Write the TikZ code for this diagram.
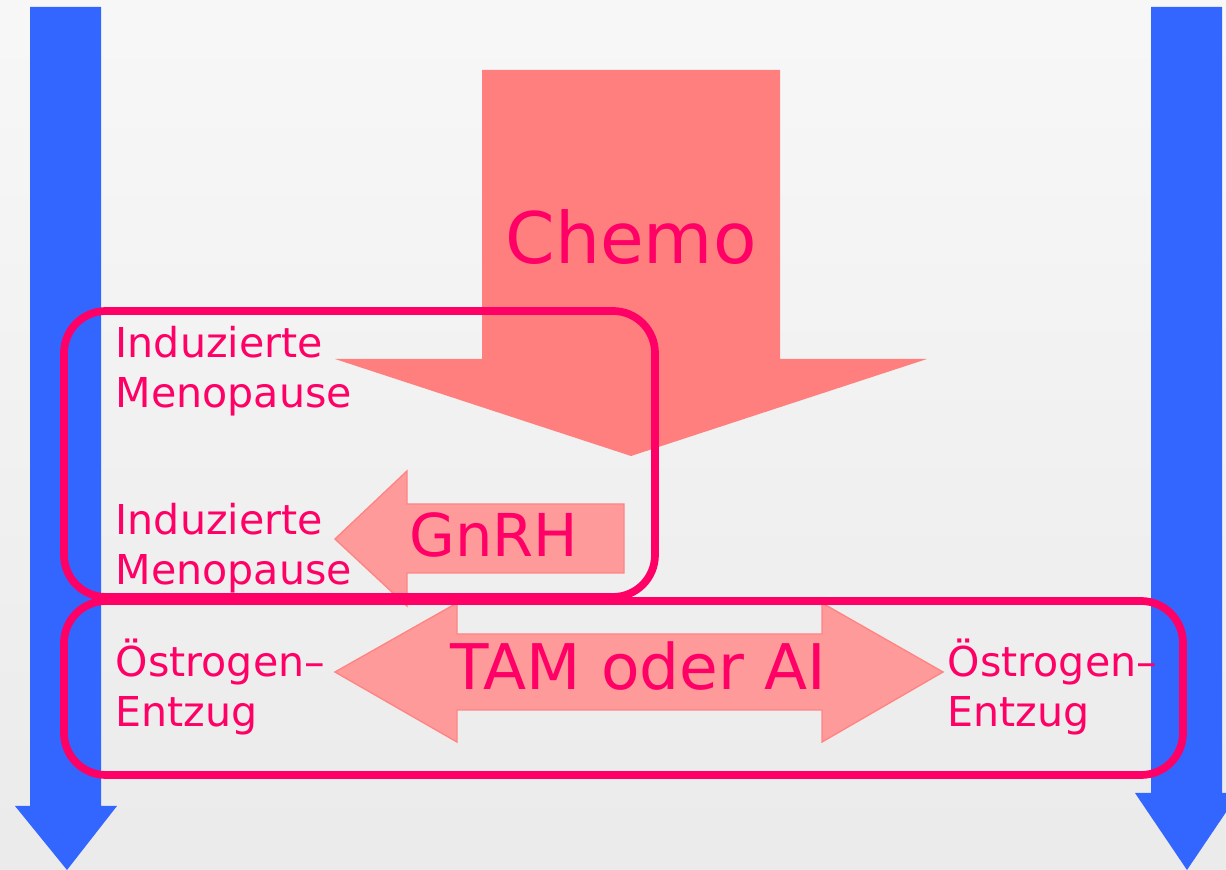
\documentclass[tikz,border=0pt]{standalone}
\usepackage{fontspec}
\setmainfont{DejaVu Sans}
\definecolor{barblue}{HTML}{3366FF}
\definecolor{chemofill}{HTML}{FF7F7F}
\definecolor{armfill}{HTML}{FF9A9A}
\definecolor{armedge}{HTML}{FF8585}
\definecolor{hotpink}{HTML}{FF0066}
\tikzset{
  txtline/.style={anchor=base west,inner sep=0pt,text=hotpink,font=\fontsize{11.7pt}{14pt}\selectfont},
  biglabel/.style={inner sep=0pt,text=hotpink},
  phasebox/.style={draw=hotpink,line width=2.2pt,rounded corners=0.42cm},
  armshape/.style={fill=armfill,draw=armedge,line width=0.4pt}
}
\begin{document}
\begin{tikzpicture}[x=0.01cm,y=-0.01cm]
% page and background
\useasboundingbox (0,0) rectangle (1226,870);
\clip (0,0) rectangle (1226,870);
\shade[top color=black!3,middle color=white!99!black,bottom color=black!8] (0,0) rectangle (1226,870);
% blue time bars
\fill[barblue] (30,7) -- (101,7) -- (101,806) -- (117,806) -- (67,870) -- (15,806) -- (30,806) -- cycle;
\fill[barblue] (1151,7) -- (1222,7) -- (1222,793) -- (1239,793) -- (1187,870) -- (1135,793) -- (1151,793) -- cycle;
% chemo arrow
\fill[chemofill] (482,70) -- (780,70) -- (780,359) -- (927,359) -- (631,456) -- (335,359) -- (482,359) -- cycle;
% GnRH arrow
\path[armshape] (624,504) -- (407,504) -- (407,471) -- (335,539) -- (407,606) -- (407,573) -- (624,573) -- cycle;
% TAM / AI arrow
\path[armshape] (335,672) -- (457,603) -- (457,634) -- (822,634) -- (822,603) -- (943,672) -- (822,742) -- (822,710) -- (457,710) -- (457,742) -- cycle;
% boxes
\draw[phasebox] (64,311) rectangle (655,597);
\draw[phasebox] (64,601) rectangle (1183,775);
% labels
\node[biglabel,font=\fontsize{20.2pt}{24pt}\selectfont] (chemo) at (631,237) {Chemo};
\node[biglabel,font=\fontsize{16.8pt}{20pt}\selectfont] (gnrh) at (494,535) {GnRH};
\node[biglabel,font=\fontsize{17.9pt}{21pt}\selectfont] (tamai) at (638,666) {TAM oder AI};
\node[txtline] (indA) at (115,358) {Induzierte};
\node[txtline] (menoA) at (115,408) {Menopause};
\node[txtline] (indB) at (115,535) {Induzierte};
\node[txtline] (menoB) at (115,585) {Menopause};
\node[txtline] (oestL) at (115,677) {Östrogen–};
\node[txtline] (entzL) at (115,727) {Entzug};
\node[txtline] (oestR) at (947,677) {Östrogen–};
\node[txtline] (entzR) at (947,727) {Entzug};
\end{tikzpicture}
\end{document}
